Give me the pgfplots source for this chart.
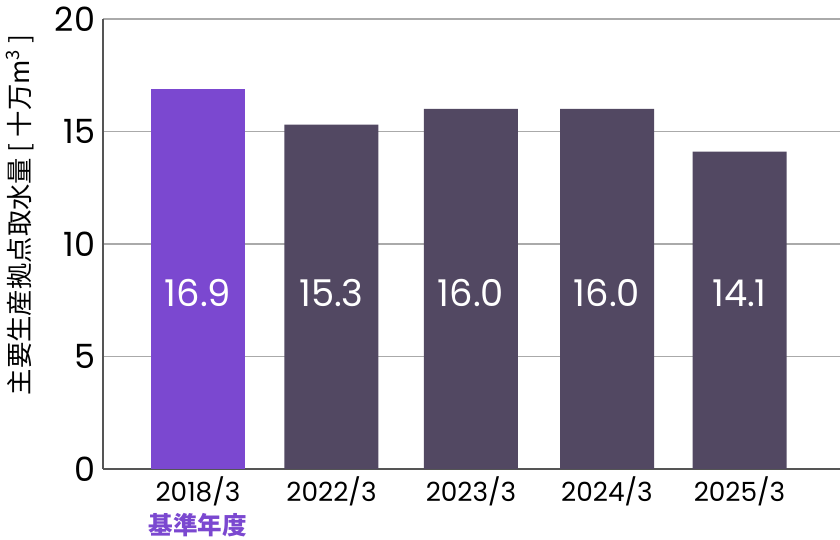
\documentclass[border=0pt]{standalone}
\usepackage{fontspec}
\setmainfont{Poppins}
\newfontfamily\cjk{Noto Sans CJK JP}
\usepackage{pgfplots}
\pgfplotsset{compat=1.18}
\definecolor{cBase}{HTML}{7B48D0}
\definecolor{cBar}{HTML}{524862}
\definecolor{cGrid}{HTML}{AAAAAA}
\definecolor{cAxis}{HTML}{555555}
\begin{document}
\begin{tikzpicture}
\begin{axis}[
  scale only axis, width=14.74cm, height=9cm,
  xmin=103, xmax=840, ymin=0, ymax=20,
  ytick={0,5,10,15,20},
  xtick={198,331.5,471,607,739.5},
  xticklabels={2018/3,2022/3,2023/3,2024/3,2025/3},
  axis x line*=bottom, axis y line*=left,
  axis line style={cAxis, line width=1.1pt, -},
  ymajorgrids, grid style={cGrid, line width=0.8pt},
  major tick length=0pt,
  /pgf/number format/assume math mode=true,
  yticklabel style={font=\fontsize{19}{19}\selectfont, xshift=-1pt},
  xticklabel style={font=\fontsize{15}{15}\selectfont, yshift=-1pt},
  bar width=94, clip=false,
]
\addplot[ybar, bar shift=0pt, fill=cBase, draw=none] coordinates {(198,16.9)};
\addplot[ybar, bar shift=0pt, fill=cBar, draw=none] coordinates {(331.5,15.3) (471,16.0) (607,16.0) (739.5,14.1)};
\node[white, font=\fontsize{21}{21}\selectfont] at (axis cs:198,7.8) {16.9};
\node[white, font=\fontsize{21}{21}\selectfont] at (axis cs:331.5,7.8) {15.3};
\node[white, font=\fontsize{21}{21}\selectfont] at (axis cs:471,7.8) {16.0};
\node[white, font=\fontsize{21}{21}\selectfont] at (axis cs:607,7.8) {16.0};
\node[white, font=\fontsize{21}{21}\selectfont] at (axis cs:739.5,7.8) {14.1};
\node[rotate=90, font=\cjk\fontsize{15}{15}\selectfont] at (axis cs:20,11.3) {主要生産拠点取水量 [ 十万m\textsuperscript{3} ]};
\node[cBase, font=\cjk\bfseries\fontsize{14}{14}\selectfont, inner sep=1pt] at (axis cs:198,-2.5) {基準年度};
\coordinate (bl) at (axis cs:0,-3.156);
\coordinate (tr) at (axis cs:840,20.84);
\end{axis}
\pgfresetboundingbox
\path[use as bounding box] (bl) rectangle (tr);
\end{tikzpicture}
\end{document}
